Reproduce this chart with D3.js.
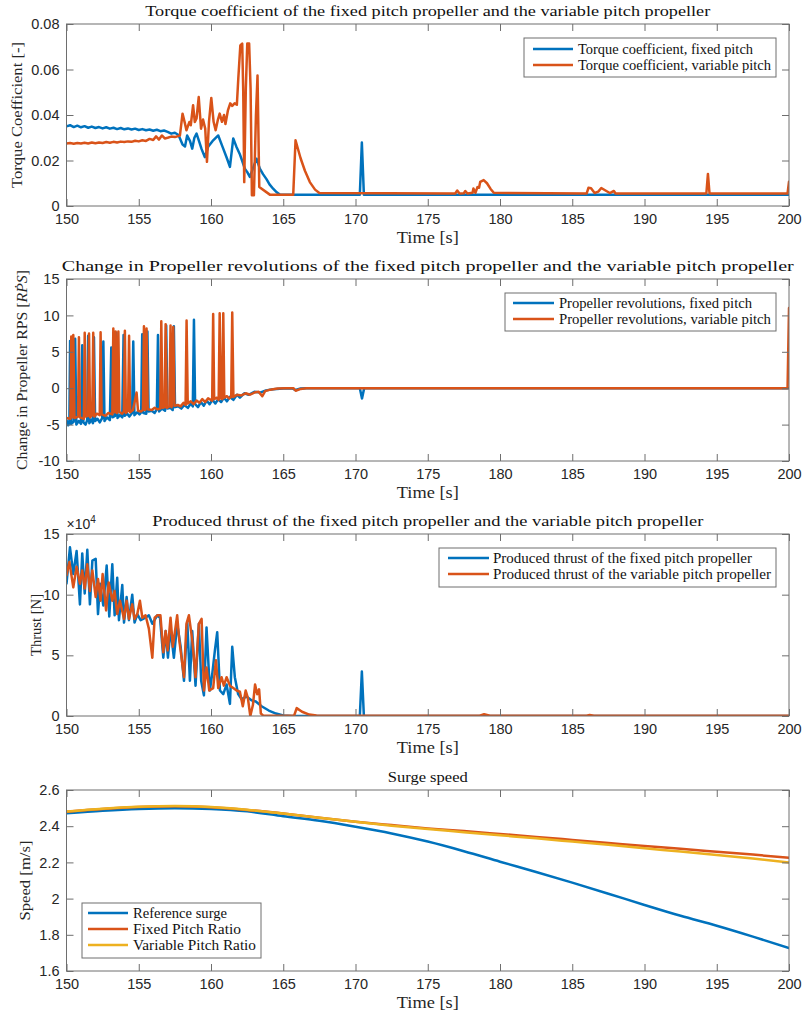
<!DOCTYPE html>
<html><head><meta charset="utf-8">
<script src="https://cdn.jsdelivr.net/npm/d3@7"></script>
<style>body{margin:0;background:#fff}</style>
</head><body>
<svg id="c" width="804" height="1019" xmlns="http://www.w3.org/2000/svg"></svg>
<script>
// ---------------- DATA ----------------
const timeTicks = [150,155,160,165,170,175,180,185,190,195,200];

const torqueTicks = [0,0.02,0.04,0.06,0.08];
const torqueTickLabels = ["0","0.02","0.04","0.06","0.08"];
const rpsTicks = [-10,-5,0,5,10,15];
const rpsTickLabels = ["-10","-5","0","5","10","15"];
const thrustTicks = [0,5,10,15];          // x 10^4 N
const thrustTickLabels = ["0","5","10","15"];
const speedTicks = [1.6,1.8,2,2.2,2.4,2.6];
const speedTickLabels = ["1.6","1.8","2","2.2","2.4","2.6"];

// Torque coefficient [-], [time, value]
const torqueFixed = [[150,0.0350],[150.25,0.0355],[150.5,0.0347],[150.75,0.0353],[151,0.0346],[151.25,0.0351],[151.5,0.0344],[151.75,0.0349],[152,0.0343],[152.25,0.0347],[152.5,0.0341],[152.75,0.0346],[153,0.0340],[153.25,0.0344],[153.5,0.0338],[153.75,0.0343],[154,0.0337],[154.25,0.0341],[154.5,0.0336],[154.75,0.0340],[155,0.0334],[155.25,0.0338],[155.5,0.0333],[155.75,0.0336],[156,0.0331],[156.25,0.0335],[156.5,0.0329],[156.75,0.0332],[157,0.0326],[157.25,0.0318],[157.5,0.0322],[157.75,0.0312],[158.03,0.0270],[158.2,0.0262],[158.35,0.0310],[158.55,0.0285],[158.7,0.0252],[158.85,0.0300],[159.0,0.0318],[159.2,0.0280],[159.35,0.0250],[159.57,0.0215],[159.8,0.0260],[160.1,0.0285],[160.5,0.0310],[160.8,0.0260],[161.1,0.0210],[161.31,0.0172],[161.54,0.0297],[161.75,0.0262],[161.98,0.0230],[162.15,0.0200],[162.34,0.0164],[162.5,0.0150],[162.69,0.0128],[162.9,0.0165],[163.15,0.0208],[163.38,0.0164],[163.6,0.0140],[163.84,0.0118],[164.05,0.0095],[164.3,0.0076],[164.55,0.0060],[164.76,0.0050],[170.3,0.0050],[170.44,0.0279],[170.58,0.0050],[200,0.0050]];
const torqueVariable = [[150,0.0275],[150.25,0.0277],[150.5,0.0274],[150.75,0.0277],[151,0.0275],[151.25,0.0278],[151.5,0.0275],[151.75,0.0279],[152,0.0276],[152.25,0.0279],[152.5,0.0277],[152.75,0.0281],[153,0.0278],[153.25,0.0282],[153.5,0.0279],[153.75,0.0283],[154,0.0281],[154.25,0.0284],[154.5,0.0282],[154.75,0.0287],[155,0.0284],[155.25,0.0289],[155.5,0.0286],[155.75,0.0295],[156,0.0290],[156.2,0.0306],[156.4,0.0292],[156.6,0.0310],[156.8,0.0297],[157,0.0300],[157.25,0.0305],[157.5,0.0303],[157.85,0.0310],[158.03,0.0406],[158.2,0.0362],[158.3,0.0333],[158.5,0.0369],[158.6,0.0355],[158.76,0.0443],[158.88,0.0369],[159.0,0.0385],[159.15,0.0479],[159.31,0.0340],[159.45,0.0380],[159.6,0.0340],[159.72,0.0194],[159.86,0.0370],[160.02,0.0475],[160.18,0.0370],[160.32,0.0333],[160.48,0.0380],[160.6,0.0406],[160.76,0.0370],[160.9,0.0400],[161.0,0.0360],[161.17,0.0420],[161.33,0.0451],[161.47,0.0440],[161.63,0.0451],[161.79,0.0445],[161.89,0.0561],[162.03,0.0706],[162.16,0.0714],[162.23,0.0508],[162.30,0.0105],[162.41,0.0516],[162.51,0.0714],[162.64,0.0714],[162.74,0.0516],[162.83,0.0047],[162.97,0.0047],[163.11,0.0399],[163.22,0.0574],[163.34,0.0084],[164.07,0.0050],[165.69,0.0050],[165.85,0.0289],[166.2,0.0210],[166.5,0.0155],[166.84,0.0105],[167.2,0.0072],[167.5,0.0057],[176.9,0.0055],[177.04,0.0068],[177.2,0.0055],[177.5,0.0056],[177.6,0.0066],[177.75,0.0055],[178.1,0.0058],[178.16,0.0077],[178.3,0.0058],[178.44,0.0083],[178.55,0.0080],[178.63,0.0106],[178.87,0.0114],[179.1,0.0100],[179.35,0.0075],[179.57,0.0058],[186.0,0.0055],[186.12,0.0080],[186.3,0.0078],[186.55,0.0057],[186.8,0.0063],[187.01,0.0079],[187.3,0.0068],[187.6,0.0057],[187.88,0.0066],[188.0,0.0055],[194.28,0.0055],[194.39,0.0141],[194.5,0.0055],[199.9,0.0055],[200,0.0107]];

// Change in propeller RPS, [time, value]
const rpsFixed = [[150,-4.4],[150.12,-5.1],[150.2,-4.7],[150.25,6.5],[150.32,-4.9],[150.5,-4.6],[150.6,6.8],[150.68,-5.0],[150.85,-4.5],[151.0,-4.9],[151.09,5.9],[151.17,-4.7],[151.32,-5.0],[151.43,-4.4],[151.5,7.2],[151.58,-4.8],[151.72,-4.3],[151.83,-4.8],[151.9,7.0],[151.98,-4.5],[152.15,-4.2],[152.3,-4.7],[152.47,-4.1],[152.55,6.4],[152.63,-4.5],[152.8,-4.0],[153.0,-4.4],[153.1,5.6],[153.18,-4.0],[153.36,-3.8],[153.45,7.6],[153.53,-4.1],[153.7,-3.7],[153.86,-4.0],[153.95,7.3],[154.03,-3.8],[154.2,-3.5],[154.35,-3.9],[154.54,-3.4],[154.62,6.4],[154.7,-3.7],[154.9,-3.3],[155.05,-3.6],[155.17,-3.3],[155.24,7.4],[155.32,-3.4],[155.52,-3.5],[155.6,7.8],[155.68,-3.2],[155.9,-3.1],[156.1,-3.4],[156.25,-2.9],[156.33,7.3],[156.41,-3.2],[156.6,-2.8],[156.82,-3.1],[156.9,8.6],[156.98,-2.8],[157.2,-2.7],[157.35,-3.0],[157.43,8.5],[157.51,-2.6],[157.75,-2.5],[157.95,-2.8],[158.15,-2.3],[158.4,-2.7],[158.6,-2.1],[158.74,-2.5],[158.82,9.4],[158.9,-2.2],[159.1,-2.6],[159.3,-1.9],[159.5,-2.4],[159.7,-1.7],[159.9,-2.2],[160.1,-1.6],[160.3,-2.1],[160.5,-1.5],[160.7,-1.9],[160.9,-1.3],[161.1,-1.8],[161.3,-1.2],[161.55,-1.6],[161.8,-0.9],[162.0,-1.3],[162.3,-0.7],[162.6,-0.9],[163.0,-0.5],[163.4,-0.6],[163.8,-0.3],[164.3,-0.15],[165,-0.05],[165.6,0],[165.85,-0.25],[166.2,-0.05],[166.6,0],[170.3,0],[170.45,-1.4],[170.6,0],[200,0]];
const rpsVariable = [[150,-4.1],[150.27,-4.2],[150.33,7.1],[150.4,-4.0],[150.47,7.3],[150.55,-4.1],[150.8,-3.9],[150.86,7.0],[150.93,-4.0],[151.2,-4.2],[151.26,7.6],[151.33,-3.9],[151.5,-3.8],[151.56,7.5],[151.63,-4.0],[151.78,-3.7],[151.85,7.6],[151.92,-3.9],[152.1,-3.5],[152.3,-3.7],[152.36,7.7],[152.43,-3.6],[152.7,-3.8],[152.9,-3.4],[153.17,-3.6],[153.24,8.2],[153.32,-3.3],[153.4,7.8],[153.48,-3.4],[153.59,7.8],[153.66,-3.3],[153.85,-3.5],[153.97,-3.2],[154.04,7.9],[154.11,-3.4],[154.26,-3.1],[154.33,7.2],[154.4,-3.3],[154.6,-3.0],[154.85,-0.6],[154.95,-3.1],[155.15,-3.2],[155.29,-3.0],[155.36,8.5],[155.44,-3.0],[155.54,8.2],[155.62,-2.9],[155.9,-3.0],[156.1,-2.7],[156.3,-2.9],[156.49,-2.8],[156.56,9.2],[156.64,-2.7],[156.79,-2.6],[156.86,8.8],[156.94,-2.7],[157.12,-2.5],[157.2,8.6],[157.28,-2.6],[157.39,8.4],[157.47,-2.4],[157.7,-2.3],[157.9,-2.5],[158.1,-2.0],[158.24,-2.3],[158.31,9.3],[158.39,-2.1],[158.6,-1.8],[158.8,-2.2],[159.0,-1.7],[159.2,-2.0],[159.4,-1.5],[159.6,-1.9],[159.8,-1.4],[160.08,-1.7],[160.15,10.2],[160.22,-1.5],[160.4,-1.3],[160.53,-1.6],[160.6,10.3],[160.68,-1.4],[160.78,-1.5],[160.85,10.3],[160.92,-1.3],[161.1,-1.1],[161.25,-1.4],[161.4,-1.2],[161.47,10.4],[161.55,-1.2],[161.8,-0.9],[162.1,-1.0],[162.4,-0.7],[162.7,-0.9],[163.0,-0.6],[163.3,-0.5],[163.55,-1.1],[163.75,-0.4],[164.1,-0.2],[164.6,-0.05],[165.2,0],[165.7,0],[165.86,-0.35],[166.2,-0.1],[166.6,0],[199.9,0],[200,11.0]];

// Produced thrust, x 10^4 N, [time, value]
const thrustFixed = [[150,10.9],[150.24,13.9],[150.47,11.7],[150.7,13.6],[150.93,9.2],[151.09,13.4],[151.26,10.1],[151.44,13.7],[151.62,9.2],[151.79,12.8],[152.02,12.95],[152.18,8.4],[152.32,10.9],[152.55,9.1],[152.78,12.4],[152.96,8.2],[153.17,12.5],[153.33,8.3],[153.51,11.4],[153.63,7.9],[153.86,10.8],[153.98,7.7],[154.16,9.8],[154.32,7.9],[154.55,10.0],[154.71,7.7],[154.9,8.4],[155.13,7.9],[155.47,8.1],[155.7,8.3],[155.94,7.6],[156.28,8.3],[156.47,8.1],[156.7,4.8],[156.86,7.0],[157.02,4.8],[157.2,7.2],[157.43,4.8],[157.66,7.6],[157.9,5.7],[158.13,2.9],[158.36,7.7],[158.54,2.9],[158.7,7.0],[158.93,2.5],[159.16,7.6],[159.32,2.9],[159.51,1.7],[159.69,7.3],[159.92,2.1],[160.1,3.6],[160.27,5.4],[160.43,6.9],[160.62,2.1],[160.85,1.8],[161.08,2.6],[161.31,1.0],[161.47,5.7],[161.65,3.2],[161.88,1.8],[162.11,1.4],[162.46,1.6],[162.8,1.3],[163.1,1.2],[163.5,0.8],[164.0,0.45],[164.5,0.2],[165.0,0.05],[165.6,0],[170.3,0],[170.44,3.66],[170.58,0],[200,0]];
const thrustVariable = [[150,11.6],[150.2,12.7],[150.47,10.6],[150.7,12.3],[150.93,10.9],[151.09,12.0],[151.26,10.5],[151.44,12.5],[151.62,10.3],[151.79,12.0],[152.02,9.8],[152.18,11.3],[152.36,9.5],[152.5,11.7],[152.74,8.7],[152.92,11.0],[153.17,9.5],[153.33,10.3],[153.51,8.4],[153.7,9.5],[153.98,8.0],[154.16,9.5],[154.32,8.0],[154.55,9.2],[154.71,8.0],[154.9,8.4],[155.08,9.5],[155.25,8.1],[155.47,8.3],[155.7,7.2],[155.94,4.8],[156.1,8.1],[156.28,8.3],[156.5,8.3],[156.7,5.25],[156.86,7.0],[157.0,5.4],[157.2,8.1],[157.36,5.7],[157.66,8.3],[157.8,6.3],[158.13,3.2],[158.3,7.6],[158.47,8.3],[158.7,6.3],[158.93,3.2],[159.16,7.6],[159.35,8.0],[159.51,2.1],[159.69,4.0],[159.88,2.1],[160.15,2.3],[160.34,4.6],[160.5,2.3],[160.73,3.2],[160.89,2.5],[161.08,3.2],[161.31,2.5],[161.54,2.3],[161.77,2.1],[162.0,2.0],[162.2,0.8],[162.4,2.1],[162.55,1.5],[162.72,0.0],[162.9,0.9],[163.05,2.6],[163.2,1.8],[163.33,2.2],[163.45,0.2],[163.6,0.05],[165.75,0.02],[165.93,0.65],[166.3,0.35],[166.8,0.12],[167.3,0.04],[178.6,0.03],[178.9,0.15],[179.3,0.03],[186.0,0.03],[186.2,0.08],[186.5,0.03],[200,0.03]];

// Surge speed [m/s], [time, value]
const speedReference = [[150,2.471],[152.5,2.485],[155,2.495],[157.5,2.499],[160,2.495],[162.5,2.482],[165,2.455],[167.5,2.43],[170,2.397],[172.5,2.36],[175,2.315],[177.5,2.262],[180,2.204],[182.5,2.147],[185,2.088],[187.5,2.027],[190,1.965],[192.5,1.905],[195,1.85],[197.5,1.79],[200,1.727]];
const speedFixed = [[150,2.48],[152.5,2.495],[155,2.506],[157.5,2.51],[160,2.505],[162.5,2.49],[165,2.47],[167.5,2.447],[170,2.425],[172.5,2.406],[175,2.388],[177.5,2.373],[180,2.357],[182.5,2.341],[185,2.324],[187.5,2.307],[190,2.29],[192.5,2.275],[195,2.259],[197.5,2.243],[200,2.226]];
const speedVariable = [[150,2.481],[152.5,2.497],[155,2.507],[157.5,2.511],[160,2.506],[162.5,2.491],[165,2.47],[167.5,2.447],[170,2.424],[172.5,2.403],[175,2.384],[177.5,2.367],[180,2.35],[182.5,2.333],[185,2.315],[187.5,2.297],[190,2.278],[192.5,2.26],[195,2.241],[197.5,2.221],[200,2.2]];

// ---------------- STYLE / LAYOUT ----------------
const BLUE = "#0072BD", ORANGE = "#D95319", YELLOW = "#EDB120";
const SERIF = "'Liberation Serif','Times New Roman',serif";
const SANS = "'Liberation Sans',Arial,Helvetica,sans-serif";
const L = 66.5, R = 789;
const LW = 2.5;

const panels = [
  {top:24, bottom:206, dom:[0,0.08], ticks:torqueTicks, labels:torqueTickLabels,
   title:"Torque coefficient of the fixed pitch propeller and the variable pitch propeller", titleW:565,
   ylab:[{t:"Torque Coefficient [-]"}], ylabX:22, ylabW:146,
   series:[{d:torqueFixed,c:BLUE,n:"Torque coefficient, fixed pitch",w:175},{d:torqueVariable,c:ORANGE,n:"Torque coefficient, variable pitch",w:193}],
   leg:{x:524,y:38,w:252,h:39,r0:49,dr:16,lx0:533,lx1:573,tx:578}},
  {top:279, bottom:461, dom:[-10,15], ticks:rpsTicks, labels:rpsTickLabels,
   title:"Change in Propeller revolutions of the fixed pitch propeller and the variable pitch propeller", titleW:732,
   ylab:[{t:"Change in Propeller RPS ["},{t:"RP\u0307S",i:true},{t:"]"}], ylabX:27, ylabW:200,
   series:[{d:rpsFixed,c:BLUE,n:"Propeller revolutions, fixed pitch",w:193},{d:rpsVariable,c:ORANGE,n:"Propeller revolutions, variable pitch",w:212}],
   leg:{x:505,y:293,w:271,h:38,r0:303,dr:16,lx0:513,lx1:554,tx:559}},
  {top:534, bottom:716, dom:[0,15], ticks:thrustTicks, labels:thrustTickLabels,
   title:"Produced thrust of the fixed pitch propeller and the variable pitch propeller", titleW:551,
   ylab:[{t:"Thrust [N]"}], ylabX:41, ylabW:62, exp:true,
   series:[{d:thrustFixed,c:BLUE,n:"Produced thrust of the fixed pitch propeller",w:259},{d:thrustVariable,c:ORANGE,n:"Produced thrust of the variable pitch propeller",w:278}],
   leg:{x:439,y:548,w:337,h:39,r0:558,dr:16,lx0:448,lx1:489,tx:493}},
  {top:790, bottom:971, dom:[1.6,2.6], ticks:speedTicks, labels:speedTickLabels, smooth:true,
   title:"Surge speed", titleW:80,
   ylab:[{t:"Speed [m/s]"}], ylabX:30, ylabW:80,
   series:[{d:speedReference,c:BLUE,n:"Reference surge",w:94},{d:speedFixed,c:ORANGE,n:"Fixed Pitch Ratio",w:108},{d:speedVariable,c:YELLOW,n:"Variable Pitch Ratio",w:123}],
   leg:{x:82,y:903,w:179,h:55,r0:913,dr:16,lx0:88,lx1:128,tx:133}}
];

const svg = d3.select("#c");
svg.append("rect").attr("width",804).attr("height",1019).attr("fill","#fff");

function stretch(sel, w){
  sel.attr("textLength", w).attr("lengthAdjust", "spacingAndGlyphs");
}

const x = d3.scaleLinear().domain([150,200]).range([L,R]);
const AX = "#6e6e6e";

panels.forEach((p, pi) => {
  const y = d3.scaleLinear().domain(p.dom).range([p.bottom, p.top]);
  const g = svg.append("g");
  const clipId = "clip" + pi;
  svg.append("defs").append("clipPath").attr("id", clipId)
    .append("rect").attr("x", L).attr("y", p.top - 1).attr("width", R - L).attr("height", p.bottom - p.top + 1);

  const line = d3.line().x(d => x(d[0])).y(d => y(d[1]));
  if (p.smooth) line.curve(d3.curveMonotoneX);
  const lg = g.append("g").attr("clip-path", `url(#${clipId})`);
  p.series.forEach(s => {
    lg.append("path").datum(s.d).attr("d", line).attr("fill","none")
      .attr("stroke", s.c).attr("stroke-width", LW).attr("stroke-linejoin","round").attr("stroke-linecap","round");
  });

  // axes (inward ticks on all four sides)
  const styleAxis = a => {
    a.select(".domain").remove();
    a.selectAll(".tick line").attr("stroke", AX).attr("stroke-width", 1);
    a.selectAll(".tick text").attr("fill", "#262626").attr("font-family", SANS).attr("font-size", 14.5);
  };
  g.append("g").attr("transform", `translate(0,${p.bottom})`)
    .call(d3.axisBottom(x).tickValues(timeTicks).tickFormat(d3.format("d")).tickSizeInner(-7).tickSizeOuter(0).tickPadding(8))
    .call(styleAxis);
  g.append("g").attr("transform", `translate(0,${p.top})`)
    .call(d3.axisTop(x).tickValues(timeTicks).tickFormat("").tickSizeInner(-7).tickSizeOuter(0))
    .call(styleAxis);
  g.append("g").attr("transform", `translate(${L},0)`)
    .call(d3.axisLeft(y).tickValues(p.ticks).tickFormat((d,i) => p.labels[i]).tickSizeInner(-7).tickSizeOuter(0).tickPadding(7))
    .call(styleAxis);
  g.append("g").attr("transform", `translate(${R},0)`)
    .call(d3.axisRight(y).tickValues(p.ticks).tickFormat("").tickSizeInner(-7).tickSizeOuter(0))
    .call(styleAxis);
  g.append("rect").attr("x", L).attr("y", p.top).attr("width", R - L).attr("height", p.bottom - p.top)
    .attr("fill","none").attr("stroke", AX).attr("stroke-width", 1);

  // title
  const tt = g.append("text").attr("x", (L + R) / 2).attr("y", p.top - 8).attr("text-anchor","middle")
    .attr("font-family", SERIF).attr("font-size", 15).attr("fill","#111").text(p.title);
  stretch(tt, p.titleW);

  // x label
  const xl = g.append("text").attr("x", (L + R) / 2).attr("y", p.bottom + 37).attr("text-anchor","middle")
    .attr("font-family", SERIF).attr("font-size", 16).attr("fill","#262626").text("Time [s]");
  stretch(xl, 62);

  // y label
  const yl = g.append("text").attr("transform", `translate(${p.ylabX},${(p.top + p.bottom) / 2}) rotate(-90)`)
    .attr("text-anchor","middle").attr("font-family", SERIF).attr("font-size", 15.5).attr("fill","#262626");
  p.ylab.forEach(part => {
    const ts = yl.append("tspan").text(part.t);
    if (part.i) ts.attr("font-style","italic");
  });
  stretch(yl, p.ylabW);

  if (p.exp) {
    const e = g.append("text").attr("x", L).attr("y", p.top - 5).attr("font-family", SANS)
      .attr("font-size", 14).attr("fill","#262626");
    e.append("tspan").text("\u00d710");
    e.append("tspan").attr("dy", -6).attr("font-size", 10).text("4");
  }

  // legend
  const lgd = p.leg;
  const leg = g.append("g");
  leg.append("rect").attr("x", lgd.x).attr("y", lgd.y).attr("width", lgd.w).attr("height", lgd.h)
    .attr("fill","#fff").attr("stroke", AX).attr("stroke-width", 1);
  p.series.forEach((s, i) => {
    const yy = lgd.r0 + i * lgd.dr;
    leg.append("line").attr("x1", lgd.lx0).attr("x2", lgd.lx1).attr("y1", yy).attr("y2", yy)
      .attr("stroke", s.c).attr("stroke-width", LW);
    const t = leg.append("text").attr("x", lgd.tx).attr("y", yy + 5).attr("font-family", SERIF)
      .attr("font-size", 14.5).attr("fill","#111").text(s.n);
    stretch(t, s.w);
  });
});
</script>
</body></html>
